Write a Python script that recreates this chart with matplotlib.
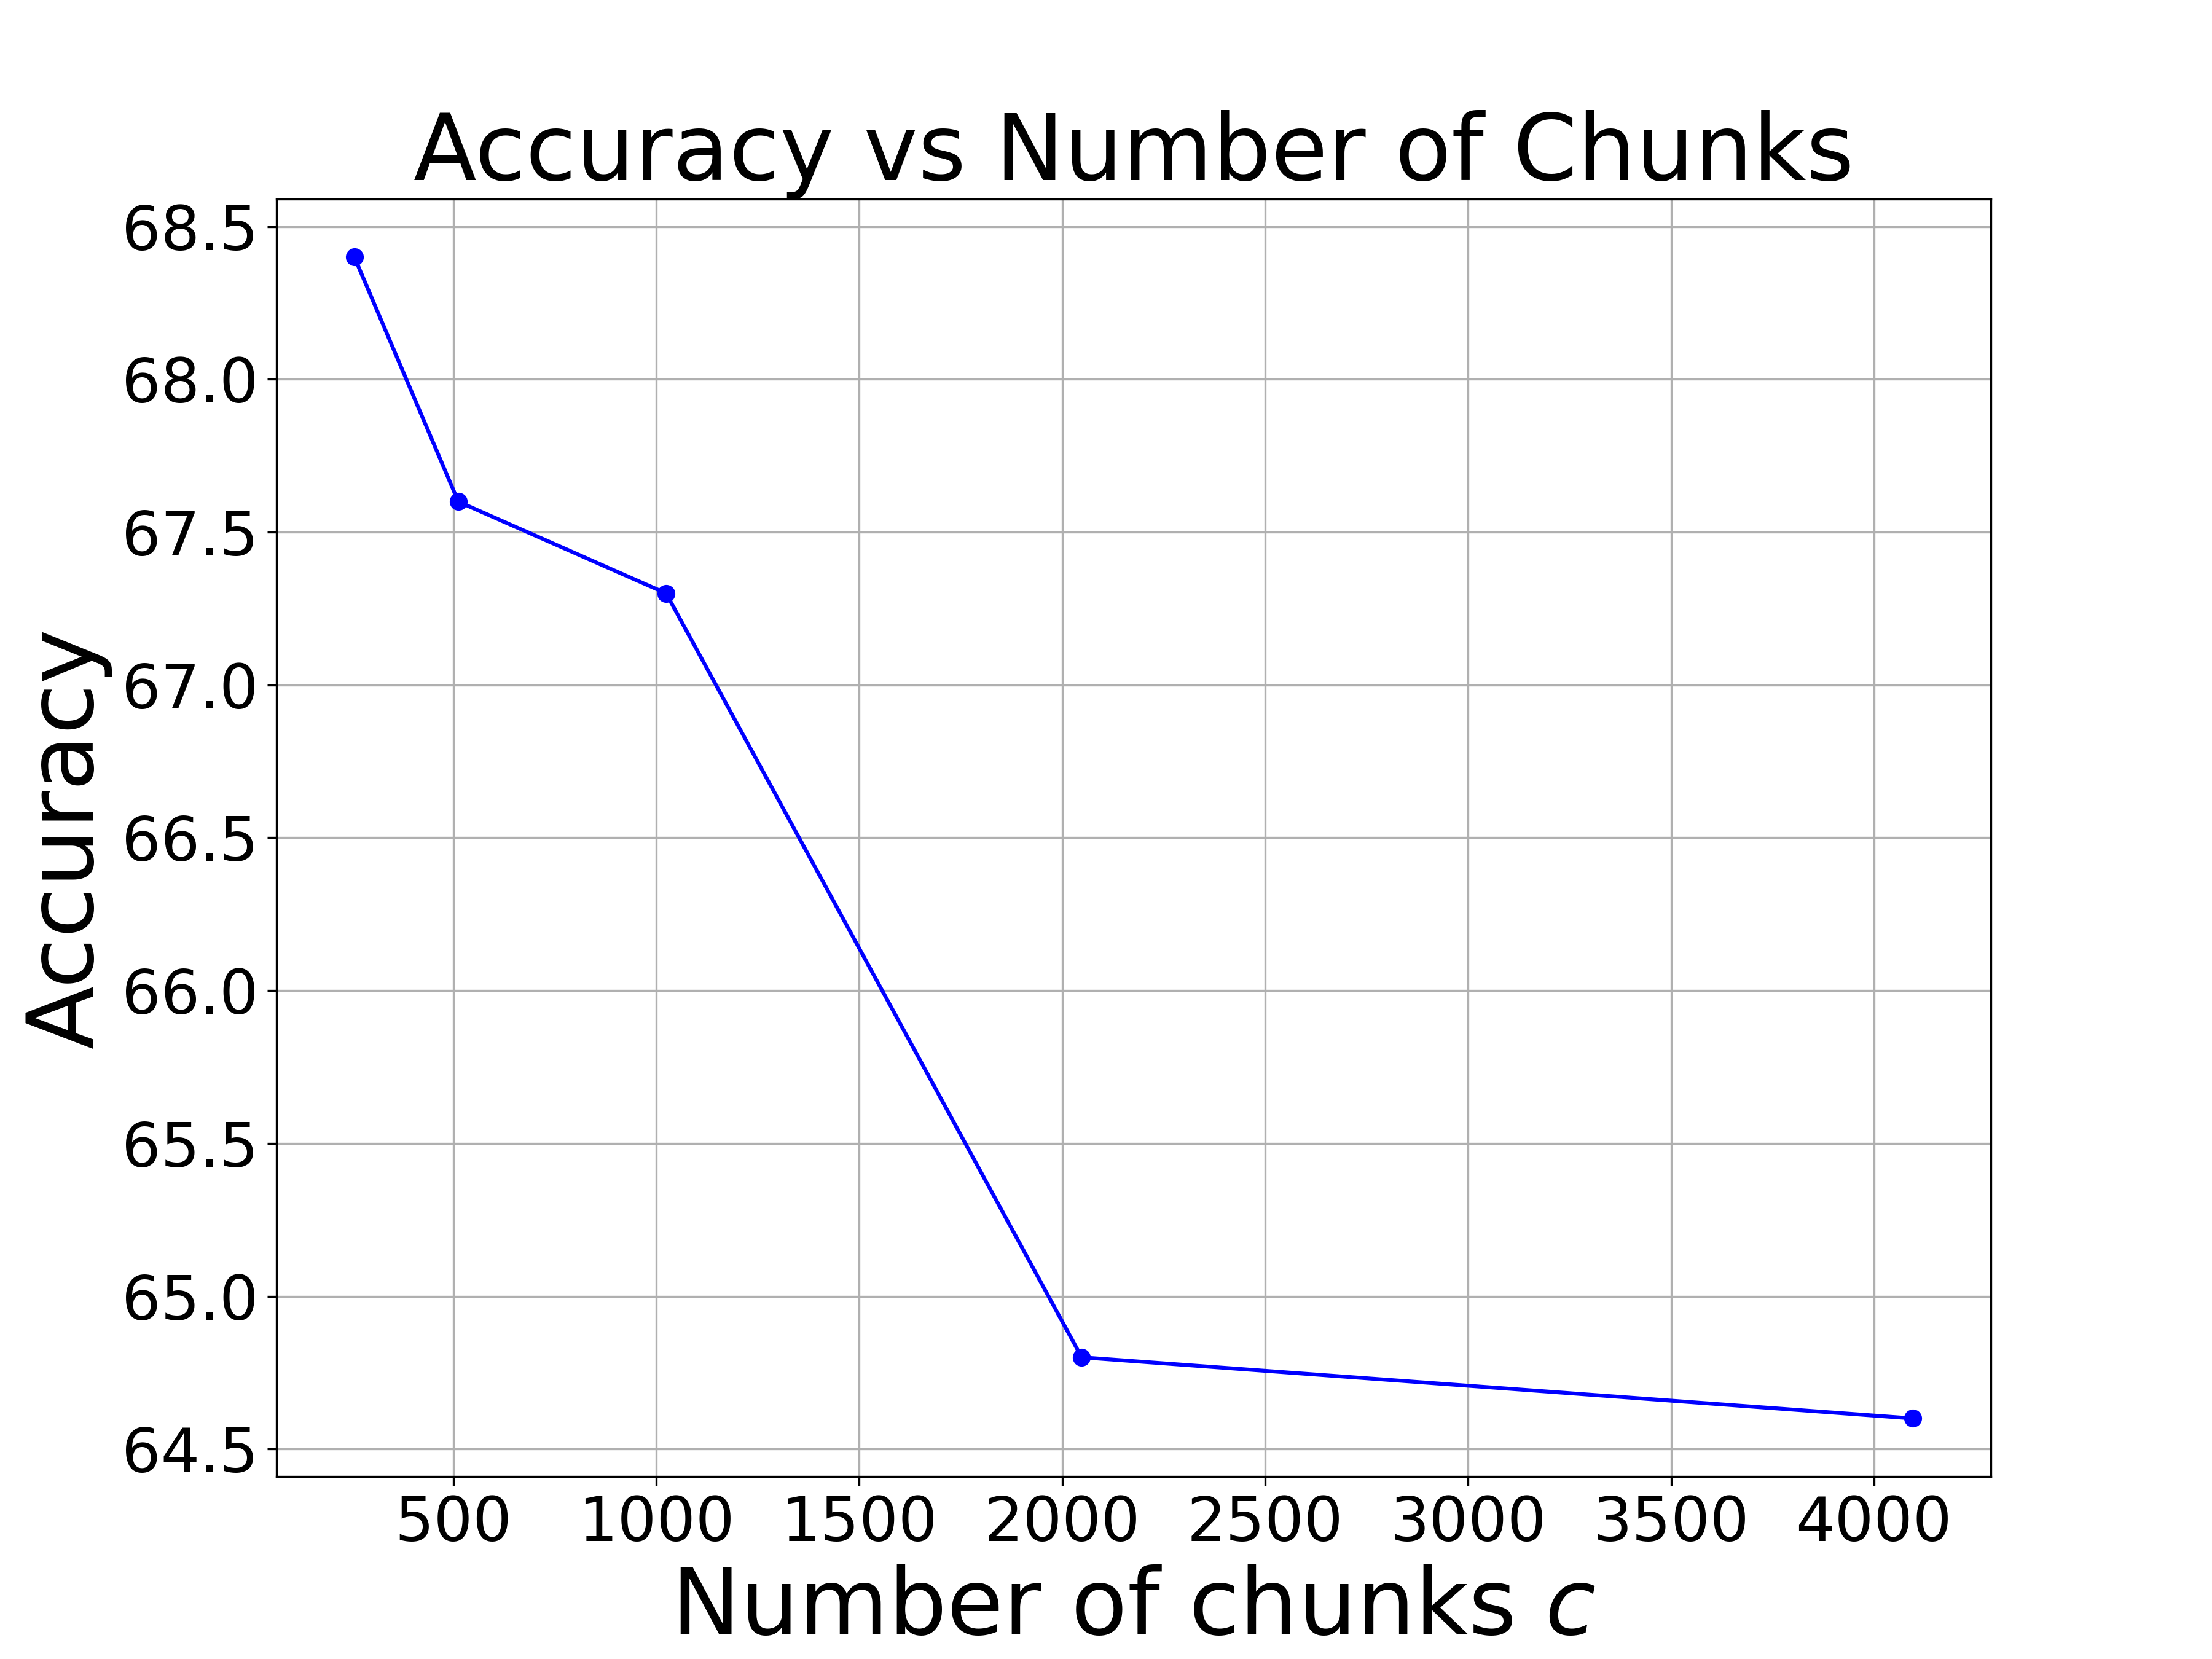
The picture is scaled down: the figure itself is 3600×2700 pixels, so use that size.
import matplotlib
matplotlib.use("Agg")
import matplotlib.pyplot as plt

# Data
num_chunks = [256, 512, 1024, 2048, 4096]
accuracy = [68.4, 67.6, 67.3, 64.8, 64.6]

fig, ax = plt.subplots(figsize=(12, 9))

ax.plot(num_chunks, accuracy, marker='o', color='blue')

ax.set_title("Accuracy vs Number of Chunks", fontsize=36)
ax.set_xlabel("Number of chunks $c$", fontsize=36)
ax.set_ylabel("Accuracy", fontsize=36)
ax.tick_params(axis='both', labelsize=24)
ax.grid(True)

plt.savefig("out.png", dpi=300)
plt.close(fig)
